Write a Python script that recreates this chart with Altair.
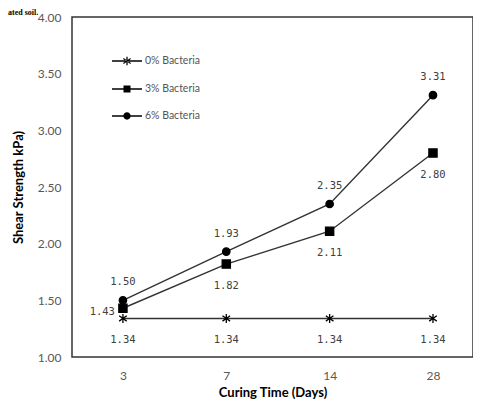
import altair as alt
import pandas as pd

times = ["3", "7", "14", "28"]
series_names = ["0% Bacteria", "3% Bacteria", "6% Bacteria"]
vals_0 = [1.34, 1.34, 1.34, 1.34]
vals_3 = [1.43, 1.82, 2.11, 2.80]
vals_6 = [1.50, 1.93, 2.35, 3.31]
y_ticks = [1.0, 1.5, 2.0, 2.5, 3.0, 3.5, 4.0]

rows = []
for s, vals in zip(series_names, [vals_0, vals_3, vals_6]):
    for t, v in zip(times, vals):
        rows.append({"time": t, "series": s, "value": v})
df = pd.DataFrame(rows)

INK = "#333333"
asterisk = "M0,-1V1M-0.85,-0.6L0.85,0.6M-0.85,0.6L0.85,-0.6"

x = alt.X("time:N", sort=times, scale=alt.Scale(type="point", padding=0.44, align=0.56),
          axis=alt.Axis(title="Curing Time (Days)", labelAngle=0, ticks=False, domain=False,
                        labelFont="Lato", labelFontSize=12, labelColor="#595959", labelPadding=13,
                        titleFont="Lato", titleFontSize=13, titleFontWeight="bold",
                        titleColor="#000000", titlePadding=5))
y = alt.Y("value:Q", scale=alt.Scale(domain=[1, 4], nice=False, zero=False),
          axis=alt.Axis(title="Shear Strength kPa)", values=y_ticks, format=".2f", grid=False,
                        ticks=False, domain=False, labelFont="Lato", labelFontSize=12,
                        labelColor="#595959", labelPadding=11,
                        titleFont="Lato", titleFontSize=13, titleFontWeight="bold",
                        titleColor="#000000", titlePadding=12))

base = alt.Chart(df)

lines = base.mark_line(color=INK, strokeWidth=1.4).encode(x=x, y=y, detail="series:N")

points = base.mark_point(filled=True, fill="#000000", stroke="#000000", strokeWidth=1.3,
                         opacity=1).encode(
    x=x, y=y,
    shape=alt.Shape("series:N", sort=series_names,
                    scale=alt.Scale(domain=series_names, range=[asterisk, "square", "circle"]),
                    legend=None),
    size=alt.Size("series:N", scale=alt.Scale(domain=series_names, range=[80, 55, 55]), legend=None),
)

bar = "M-1.07,-0.045H1.07V0.045H-1.07Z"
leg_paths = [
    bar + "M-0.045,-0.3H0.045V0.3H-0.045Z"
        + "M-0.28,-0.15L0.24,0.21L0.28,0.15L-0.24,-0.21Z"
        + "M-0.28,0.15L0.24,-0.21L0.28,-0.15L-0.24,0.21Z",
    bar + "M-0.25,-0.25H0.25V0.25H-0.25Z",
    bar + "M0.26,0A0.26,0.26,0,1,1,-0.26,0A0.26,0.26,0,1,1,0.26,0Z",
]
legend_layer = base.mark_point(filled=True, color="#000000", fill="#000000",
                               size=784, opacity=0).encode(
    x=x, y=y,
    shape=alt.Shape("series:N", sort=series_names,
                    scale=alt.Scale(domain=series_names, range=leg_paths),
                    legend=alt.Legend(title=None, orient="none", legendX=40, legendY=29,
                                      symbolSize=784, symbolFillColor="#000000",
                                      symbolOpacity=1, rowPadding=5, padding=0, labelOffset=3,
                                      labelFont="Lato", labelFontSize=10.5, labelColor="#555555")),
)

tfont = dict(font="DejaVu Sans Mono", fontSize=10.5, color="#404040")
above = base.transform_filter(alt.datum.series == "6% Bacteria").mark_text(
    dy=-18, **tfont).encode(x=x, y=y, text=alt.Text("value:Q", format=".2f"))
below = base.transform_filter(
    (alt.datum.series == "0% Bacteria") |
    ((alt.datum.series == "3% Bacteria") & (alt.datum.time != "3"))
).mark_text(dy=22, **tfont).encode(x=x, y=y, text=alt.Text("value:Q", format=".2f"))
left = base.transform_filter(
    (alt.datum.series == "3% Bacteria") & (alt.datum.time == "3")
).mark_text(dx=-8, dy=4, align="right", **tfont).encode(
    x=x, y=y, text=alt.Text("value:Q", format=".2f"))

caption = alt.Chart(pd.DataFrame({"t": ["ated soil."]})).mark_text(
    font="Liberation Serif", fontSize=8, fontWeight="bold", align="left",
    baseline="top", color="#000000").encode(
    text="t:N", x=alt.value(-64), y=alt.value(-8.5))

chart = alt.layer(lines, points, legend_layer, above, below, left, caption).resolve_scale(
    shape="independent", size="independent"
).properties(
    width=401, height=340,
    autosize=alt.AutoSizeParams(type="none"),
    padding={"left": 64, "top": 9, "right": 0, "bottom": 44},
).configure_view(stroke="#333333", strokeWidth=1.5)

chart.save("out.html", embed_options={"renderer": "svg", "actions": False})
